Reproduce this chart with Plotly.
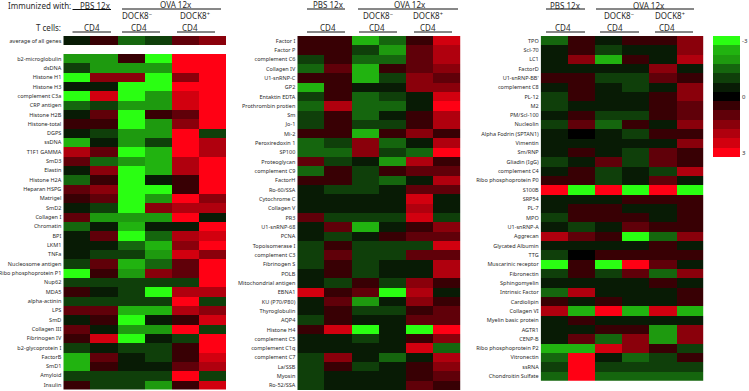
import plotly.graph_objects as go

W, H = 749, 391

conditions = ["PBS 1", "PBS 2", "DOCK8- 1", "DOCK8- 2", "DOCK8+ 1", "DOCK8+ 2"]

average_label = ["average of all genes"]
average_values = [[-0.5, 0.5, -1.5, -1, 1, 1.5]]

panel1_labels = ["b2-microglobulin", "dsDNA", "Histone H1", "Histone H3", "complement C3a", "CRP antigen",
    "Histone H2B", "Histone-total", "DGPS", "ssDNA", "T1F1 GAMMA", "SmD3", "Elastin", "Histone H2A",
    "Heparan HSPG", "Matrigel", "SmD2", "Collagen I", "Chromatin", "BPI", "LKM1", "TNFa",
    "Nucleosome antigen", "Ribo phosphoprotein P1", "Nup62", "MDA5", "alpha-actinin", "LPS", "SmD",
    "Collagen III", "Fibrinogen IV", "b2-glycoprotein I", "FactorB", "SmD1", "Amyloid", "Insulin"]
panel1_values = [
    [-2, -2, 0.5, -3, 3, 3], [-1, -2, -2, -2, 3, 3], [-3, 1.5, 1.5, -3, 1.5, 3], [-0.5, -0.5, -3, -3, 3, 3],
    [-3, 2.5, -3, -2, 2.5, 3], [-1.5, -1, -2, -2, 2.5, 3], [-0.5, 1, -3, 0.5, 1, 3], [0.5, 0.5, -3, -2, 1.5, 3],
    [-0.5, -1, -2, -2, 3, -1], [-2.5, -0.5, -2, -1, 3, 2], [2, 1, -3, -2.5, 3, 2], [1, -1.5, -2, -2.5, 2, 3],
    [-0.5, 1.5, -3, -2.5, 2, 3], [-1.5, 0.5, -3, -0.5, 0.5, 3], [1, 1.5, -3, -3, 0.5, 3], [0.5, 1, -3, -2, 3, 1.5],
    [-0.5, -1, -3, 1.5, 2, 2], [1, -2, -2, -2, 3, -0.5], [-1.5, -0.5, -2.5, -0.5, -0.5, 3], [-0.5, 1, -3, -1.5, 2, 2.5],
    [-0.5, -0.5, -1.5, -2.5, 1.5, 3], [-0.5, -1, -1, -2, 2.5, 1.5], [-1, 1, -2.5, -1.5, 1, 3], [-3, 0.5, -2, 1.5, 1, 3],
    [-1, -1, -1, -1, -1, 3], [0.5, -0.5, -1, -3, 2, 2], [-1, -1, -1, -1, 3, -1], [1, 1, -2.5, -2.5, 2, 1.5],
    [-0.5, 0.5, -3, -0.5, 0.5, 2.5], [1, -0.5, -2, -2, 3, -1], [0.5, 2.5, -3, -0.5, -1, 3], [-1, -0.5, -1, -1, 0.5, 3],
    [-2.5, 1, -0.5, -1, 0.5, 2.5], [-2.5, 0.5, -0.5, -0.5, 1, 2], [-1, -1, -1, -1, 3, -1], [0.5, -1, -1, -2, 0.5, 2.5],
]

panel2_labels = ["Factor I", "Factor P", "complement C6", "Collagen IV", "U1-snRNP-C", "GP2", "Entaktin EDTA",
    "Prothrombin protien", "Sm", "Jo-1", "Mi-2", "Peroxiredoxin 1", "SP100", "Proteoglycan", "complement C9",
    "FactorH", "Ro-60/SSA", "Cytochrome C", "Collagen V", "PR3", "U1-snRNP-68", "PCNA", "Topoisomerase I",
    "complement C3", "Fibrinogen S", "POLB", "Mitochondrial antigen", "EBNA1", "KU (P70/P80)", "Thyroglobulin",
    "AQP4", "Histone H4", "complement C5", "complement C1q", "complement C7", "La/SSB", "Myosin", "Ro-52/SSA"]
panel2_values = [
    [0.5, 0.5, -2.5, -1.5, 0.5, 2.5], [0.5, 0.5, -1, -2, 1, 2], [-1, 0.5, -1.5, -1.5, 1, 2], [-1.5, 1, -2.5, 0.5, 1, 1.5],
    [0.5, 0.5, -2.5, -1, 1.5, 1], [-2.5, 0.5, -0.5, -0.5, 1.5, 1.5], [-1, 0.5, -1.5, -1, -0.5, 2.5], [-1.5, 2, -1.5, -1.5, -0.5, 3],
    [-1, 0.5, -1.5, -0.5, 0.5, 2], [-1, 0.5, -1, -1, 0.5, 2], [0.5, 0.5, -2.5, 0.5, 1.5, 0.5], [-1.5, -1, 1.5, -1.5, -0.5, 2],
    [-1.5, -1.5, 1.5, -1, -1.5, 3], [1, -1, -0.5, -2, 2, 0.5], [-1.5, 0.5, -1, 0.5, 1, 1], [0.5, 0.5, -1, -1.5, -0.5, 2],
    [-0.5, -1, -1, -0.5, 1, 1], [-0.5, -0.5, -0.5, -0.5, 2.5, -0.5], [-0.5, -0.5, -0.5, -0.5, 2, -0.5], [1, -1, -1, -1, 2.5, -1],
    [-0.5, 1, -2.5, -0.5, 0.5, 1.5], [-0.5, -1, -0.5, 0.5, 1, 1], [-1, 0.5, -1, -1, -1, 2.5], [-1, 1, -1, -1, 1, 1],
    [-1, 0.5, -1, -0.5, -0.5, 2], [-0.5, 0.5, -1, -0.5, -0.5, 2], [-0.5, -1, 0.5, -1, 1.5, 0.5], [2.5, 0.5, 1, -3, 2, -0.5],
    [-0.5, 1, -2, -0.5, 1.5, 0.5], [-0.5, 0.5, -1, -1, 0.5, 1], [-1, 0.5, -0.5, -0.5, 1, 1], [0.5, 2.5, -3, -0.5, -3, 3],
    [-0.5, -0.5, -1, -0.5, 0.5, 1.5], [-0.5, -0.5, -0.5, -0.5, 2.5, -1.5], [-1, 1.5, -0.5, -1.5, -0.5, 2], [-1, 0.5, -1, -0.5, 0.5, 1.5],
    [-1, -0.5, -0.5, -0.5, 0.5, 1], [-1, -0.5, -0.5, -0.5, 1, 0.5],
]

panel3_labels = ["TPO", "Scl-70", "LC1", "FactorD", "U1-snRNP-BB'", "complement C8", "PL-12", "M2", "PM/Scl-100",
    "Nucleolin", "Alpha Fodrin (SPTAN1)", "Vimentin", "Sm/RNP", "Gliadin (IgG)", "complement C4",
    "Ribo phosphoprotein P0", "S100B", "SRP54", "PL-7", "MPO", "U1-snRNP-A", "Aggrecan", "Glycated Albumin", "TTG",
    "Muscarinic receptor", "Fibronectin", "Sphingomyelin", "Intrinsic Factor", "Cardiolipin", "Collagen VI",
    "Myelin basic protein", "AGTR1", "CENP-B", "Ribo phosphoprotein P2", "Vitronectin", "ssRNA", "Chondroitin Sulfate"]
panel3_values = [
    [-1.5, 0.5, -0.5, 0.5, 0.5, 1.5], [-0.5, 0.5, -1, -0.5, -0.5, 1.5], [-0.5, 1.5, -2.5, 0.5, -0.5, 2], [-0.5, -0.5, -0.5, -0.5, 1.5, -0.5],
    [0.5, 0.5, -1, -1, 1, 0.5], [-0.5, 0.5, -0.5, -1, -0.5, 1.5], [-1, 0.5, -0.5, -0.5, 0.5, 1.5], [-1, -0.5, -0.5, -0.5, 0.5, 1],
    [-0.5, 0.5, -1, -1, 0.5, 1], [-1, 1, -1.5, 0.5, -0.5, 1.5], [-0.5, 0, -0.5, -1, 0.5, 0.5], [-0.5, -0.5, -0.5, -0.5, -0.5, 1.5],
    [-0.5, 0.5, -0.5, -1, 1, 0.5], [-1, -0.5, 1, -1, 1, 0.5], [-0.5, 0.5, -1, -0.5, -1, 2], [0.5, 0.5, -1, -0.5, 1, -0.5],
    [3, -3, 3, -3, 3, -3], [-0.5, -0.5, -0.5, 0.5, 0.5, 0.5], [-0.5, 0.5, 0.5, -0.5, -0.5, 0.5], [-1, 0.5, 0.5, 0.5, -0.5, 0.5],
    [-0.5, -1, -0.5, 1, 0.5, 0.5], [2, 1, 0.5, -3, -1.5, 1.5], [-0.5, -0.5, -0.5, -0.5, 0.5, -0.5], [-1, 0, 0.5, 0.5, 0.5, 0.5],
    [-3, 0.5, -3, 3, 1, -0.5], [-1, 0.5, -1, 1, -1.5, 1.5], [-0.5, -0.5, -0.5, -0.5, 0.5, -0.5], [-1.5, 2, -0.5, -0.5, -0.5, 0.5],
    [0.5, -0.5, 0.5, -0.5, -0.5, 0.5], [2, -2.5, 3, -2.5, 2.5, -2.5], [-0.5, 0.5, -0.5, -0.5, -0.5, -0.5], [-0.5, -0.5, 0.5, 0.5, -2, 1.5],
    [-0.5, 1, -1.5, 1.5, -2, 1.5], [-2.5, -2.5, 2.5, 1.5, 0.5, -1], [-1.5, 3, -0.5, -1.5, -1, 0.5], [-1, 3, -1, -1, -1, -1],
    [-1.5, 3, -1.5, -1.5, -1.5, -1.5],
]

legend_levels = [-3, -2.5, -2, -1.5, -1, -0.5, 0, 0.5, 1, 1.5, 2, 2.5, 3]
legend_ticks = [-3, 0, 3]
level_colors = ["#2aff12", "#21b310", "#1e9a0f", "#15660e", "#0f3f0a", "#081b05", "#000000",
                "#380004", "#600009", "#8a000b", "#b0000e", "#d2000f", "#ff0014"]

colorscale = [[i / 12, c] for i, c in enumerate(level_colors)]
LABEL_FONT = dict(family="Noto Sans", size=5.5, color="#2a2a2a")
HEAD_FONT = dict(family="Noto Sans", size=8, color="#2a2a2a")

fig = go.Figure()


def add_map(n, labels, z, x0, x1, y0, y1, tick_font=LABEL_FONT):
    sx = "" if n == 1 else str(n)
    fig.add_trace(go.Heatmap(z=z, x=conditions, y=labels, xaxis="x" + sx, yaxis="y" + sx,
                             zmin=-3, zmax=3, colorscale=colorscale, showscale=False, xgap=0, ygap=0))
    fig.update_layout({
        "xaxis" + sx: dict(domain=[x0 / W, x1 / W], anchor="y" + sx, visible=False, fixedrange=True),
        "yaxis" + sx: dict(domain=[1 - y1 / H, 1 - y0 / H], anchor="x" + sx, autorange="reversed",
                           type="category", showgrid=False, zeroline=False, showline=False, ticks="",
                           tickfont=tick_font, ticklabelstandoff=1, tickmode="array",
                           tickvals=labels, ticktext=labels),
    })


ROW = 9.32
add_map(1, average_label, average_values, 63.3, 226, 36, 36 + ROW)
add_map(2, panel1_labels, panel1_values, 63.3, 226, 54, 54 + ROW * 36)
add_map(3, panel2_labels, panel2_values, 297.3, 460.7, 36, 36 + ROW * 38)
add_map(4, panel3_labels, panel3_values, 540.7, 703.3, 36, 36 + ROW * 37)

# stepped colour key, drawn as its own one-column heatmap
fig.add_trace(go.Heatmap(z=[[v] for v in legend_levels], y=legend_levels, x=["key"], xaxis="x5", yaxis="y5",
                         zmin=-3, zmax=3, colorscale=colorscale, showscale=False))
fig.update_layout(
    xaxis5=dict(domain=[713 / W, 740 / W], anchor="y5", visible=False),
    yaxis5=dict(domain=[1 - (36 + ROW * 13) / H, 1 - 36 / H], anchor="x5", side="right", autorange="reversed",
                showgrid=False, zeroline=False, showline=False, ticks="", tickmode="array",
                tickvals=legend_ticks, ticktext=[str(t) for t in legend_ticks],
                tickfont=dict(family="Noto Sans", size=6, color="#2a2a2a"), ticklabelstandoff=1),
)

# header text and rules, in pixels from the top-left of the page
header_texts = [
    ("Immunized with:", 39, 5.5), ("PBS 12x", 95, 5.5), ("OVA 12x", 176, 5),
    ("DOCK8<sup>−</sup>", 137, 15.5), ("DOCK8<sup>+</sup>", 195, 15.5), ("T cells:", 49, 27.5),
    ("CD4", 92, 27.5), ("CD4", 139, 27.5), ("CD4", 190, 27.5),
    ("PBS 12x", 328, 5), ("OVA 12x", 410, 5), ("DOCK8<sup>−</sup>", 378, 15.5), ("DOCK8<sup>+</sup>", 428, 15.5),
    ("CD4", 328, 27.5), ("CD4", 377, 27.5), ("CD4", 428, 27.5),
    ("PBS 12x", 565, 5.5), ("OVA 12x", 649, 5.5), ("DOCK8<sup>−</sup>", 619, 15.5), ("DOCK8<sup>+</sup>", 670, 15.5),
    ("CD4", 563, 27.5), ("CD4", 615, 27.5), ("CD4", 667, 27.5),
]
header_rules = [
    (72.5, 111, 9.5), (122, 221, 9), (72.5, 111, 32), (122, 160, 32), (177, 215, 32),
    (307, 345, 9), (358, 458, 9), (307, 345, 32), (359, 397, 32), (414, 452, 32),
    (546, 585, 9), (596, 694, 9), (546, 585, 32), (600, 639, 32), (655, 693, 32),
]
for text, xc, yc in header_texts:
    fig.add_annotation(text=text, x=xc / W, y=1 - yc / H, xref="paper", yref="paper", showarrow=False,
                       font=HEAD_FONT, xanchor="center", yanchor="middle", borderpad=0, borderwidth=0)
for x0, x1, y in header_rules:
    fig.add_shape(type="line", xref="paper", yref="paper", x0=x0 / W, x1=x1 / W, y0=1 - y / H, y1=1 - y / H,
                  line=dict(color="#111111", width=1))

fig.update_layout(width=W, height=H, margin=dict(l=0, r=0, t=0, b=0), paper_bgcolor="white",
                  plot_bgcolor="white", showlegend=False)

fig.write_html("out.html", config={"displayModeBar": False},
               post_script="document.body.style.margin='0';")
